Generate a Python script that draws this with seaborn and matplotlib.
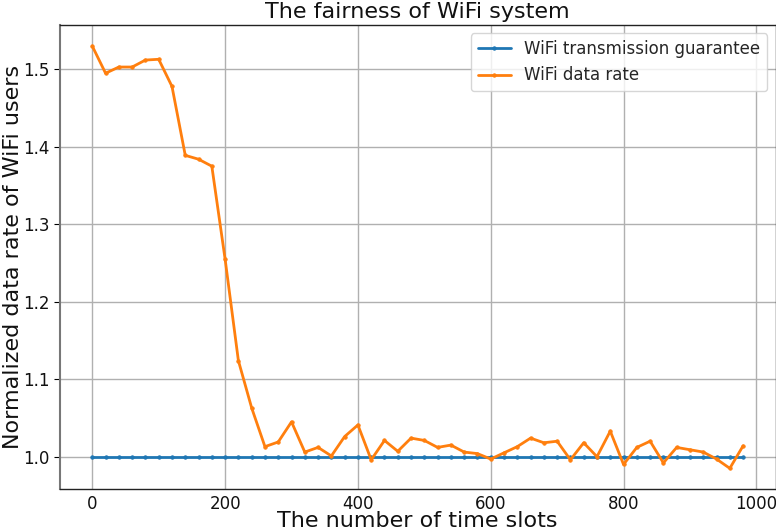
import matplotlib
matplotlib.use("Agg")
import matplotlib.pyplot as plt
import seaborn as sns
import numpy as np
import pandas as pd

time_slots = list(range(0, 1000, 20))
guarantee = [1.0] * len(time_slots)
data_rate = [1.530, 1.495, 1.503, 1.503, 1.512, 1.513, 1.478, 1.389, 1.384, 1.375,
             1.255, 1.124, 1.063, 1.013, 1.019, 1.045, 1.006, 1.012, 1.001, 1.026,
             1.041, 0.996, 1.021, 1.007, 1.024, 1.021, 1.012, 1.015, 1.006, 1.004,
             0.997, 1.005, 1.013, 1.024, 1.018, 1.020, 0.996, 1.018, 1.000, 1.033,
             0.990, 1.012, 1.020, 0.992, 1.012, 1.009, 1.006, 0.997, 0.985, 1.014]
labels = ["WiFi transmission guarantee", "WiFi data rate"]

sns.set_style("whitegrid", {"axes.edgecolor": "black", "grid.color": "#b0b0b0",
                            "ytick.left": True})
plt.rcParams['font.family'] = ['DejaVu Sans']

fig, ax = plt.subplots(figsize=(7.76, 5.32), dpi=100)
fig.subplots_adjust(left=0.077, right=0.9995, top=0.953, bottom=0.080)

df = pd.DataFrame({"x": time_slots * 2,
                   "y": guarantee + data_rate,
                   "series": [labels[0]] * len(time_slots) + [labels[1]] * len(time_slots)})
sns.lineplot(data=df, x="x", y="y", hue="series", palette=["#1f77b4", "#ff7f0e"],
             marker=".", markersize=5, linewidth=2, markeredgewidth=0.6, ax=ax)
for line in ax.get_lines():
    line.set_markeredgecolor(line.get_color())
    line.set_markerfacecolor(line.get_color())

ax.set_title("The fairness of WiFi system", fontsize=16, pad=5, color="#111111")
ax.set_xlabel("The number of time slots", fontsize=16, color="#111111")
ax.set_ylabel("Normalized data rate of WiFi users", fontsize=16, color="#111111")
ax.xaxis.set_label_coords(0.5, -0.047)
ax.yaxis.set_label_coords(-0.051, 0.5)
ax.tick_params(axis="y", labelsize=12, length=4, color="black", labelcolor="#111111")
ax.tick_params(axis="x", labelsize=12, length=0, pad=4, labelcolor="#111111")
ax.grid(True, color="#b0b0b0", linewidth=1)
for s in ax.spines.values():
    s.set_color("#222222")
    s.set_linewidth(1)
ax.spines["left"].set_color("#777777")
ax.spines["left"].set_linewidth(1.5)
leg = ax.legend(fontsize=12, loc="upper right", framealpha=0.8)
for h in leg.get_lines():
    h.set_markeredgecolor(h.get_color())
    h.set_markerfacecolor(h.get_color())
fig.savefig("out.png", dpi=100)
